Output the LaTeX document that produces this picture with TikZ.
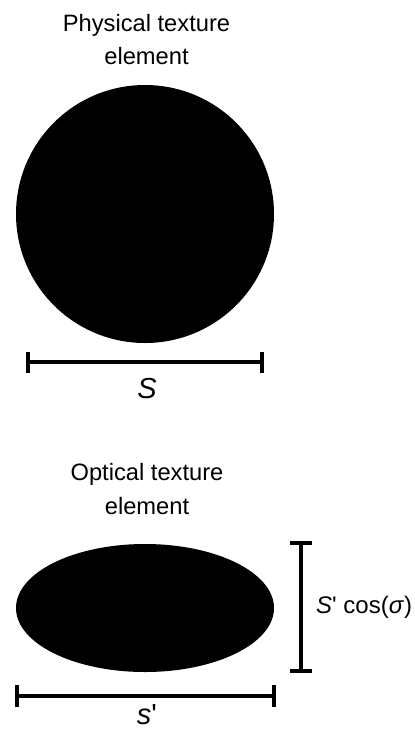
\documentclass[tikz,border=0pt]{standalone}
\usepackage{fontspec}
\setmainfont{Liberation Sans}
\begin{document}
\begin{tikzpicture}[x=1pt, y=-1pt, every node/.style={inner sep=0pt, anchor=base},
  title/.style={font=\fontsize{23.7}{28}\selectfont},
  sizelabel/.style={font=\fontsize{29}{32}\selectfont\itshape},
  bar/.style={line width=4pt}]
\useasboundingbox (0,0) rectangle (415,729);
% Top: the physical element, round
\node[title] (physA) at (146.5,31) {Physical texture};
\node[title] (physB) at (146.5,64) {element};
\fill (145,214) circle (129);
\draw[bar] (28,362) -- (262,362);
\foreach \x in {28,262} \draw[bar] (\x,352) -- (\x,373);
\node[sizelabel] (sizeS) at (147,398) {S};
% Bottom: the optical element, squashed
\node[title] (optA) at (147,480) {Optical texture};
\node[title] (optB) at (147,514) {element};
\fill (145,608) ellipse (129 and 64);
\draw[bar] (17,696) -- (274,696);
\foreach \x in {17,274} \draw[bar] (\x,685) -- (\x,707);
\node[sizelabel] (sizeSp) at (147,724) {s\upshape\textquotesingle};
\draw[bar] (301,543) -- (301,671);
\foreach \y in {543,671} \draw[bar] (290,\y) -- (312,\y);
\node[font=\fontsize{24}{28}\selectfont, anchor=base west] (cosS) at (316,613)
  {\textit{S}\textquotesingle\ cos(\textit{σ})};
\end{tikzpicture}
\end{document}
